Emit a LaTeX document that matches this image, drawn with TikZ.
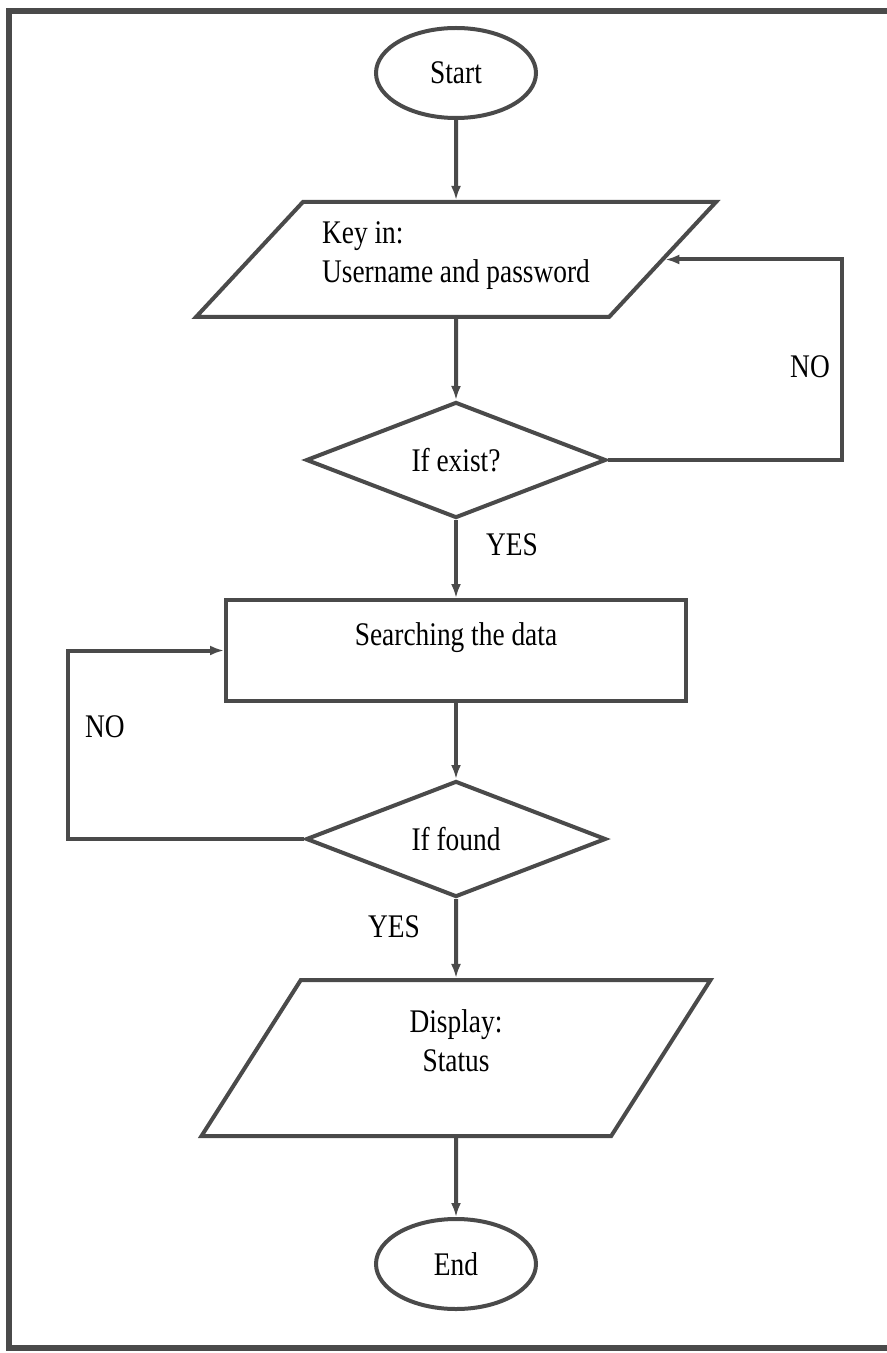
\documentclass[tikz,border=0pt]{standalone}
\usepackage{fontspec}
\setmainfont{Liberation Serif}[FakeStretch=0.83]
\usetikzlibrary{shapes.geometric,arrows.meta}
\definecolor{lineg}{HTML}{4A4A4A}
\tikzset{flow/.style={draw=lineg,line width=2pt,-{Latex[length=7pt,width=5pt]}}}
\tikzset{term/.style={ellipse,draw=lineg,line width=2pt,inner sep=0pt,minimum width=80pt,minimum height=45pt}}
\tikzset{io/.style={trapezium,trapezium stretches body=true,draw=lineg,line width=2pt,inner sep=0pt}}
\tikzset{test/.style={diamond,aspect=2.6,draw=lineg,line width=2pt,inner sep=0pt,minimum width=150pt,minimum height=58pt}}
\tikzset{proc/.style={rectangle,draw=lineg,line width=2pt,inner sep=0pt,minimum width=230pt,minimum height=50.5pt}}

\begin{document}
\begin{tikzpicture}[x=0.5pt,y=-0.5pt,font=\fontsize{16.5}{19.5}\selectfont]
\useasboundingbox (0,0) rectangle (887,1353);
\draw[lineg,line width=3pt] (9,11) rectangle (900,1348);
\node (start) at (456,73) [term] {Start};
\node (keyin) at (456,259.5) [io,trapezium left angle=35,trapezium right angle=145,minimum width=260pt,minimum height=57.5pt,align=left,text depth=7pt] {Key in:\\Username and password};
\node (exist) at (456,460) [test] {If exist?};
\node (search) at (456,650.5) [proc,text depth=16pt] {Searching the data};
\node (found) at (456,839) [test] {If found};
\node (show) at (456,1058) [io,trapezium left angle=44,trapezium right angle=136,minimum width=254.5pt,minimum height=78pt,align=center,text depth=17pt] {Display:\\Status};
\node (stop) at (456,1264) [term] {End};
\coordinate (nr) at (842,460);
\coordinate (nl) at (68,839);
\node (noA) at (810,367) {NO};
\node (yesA) at (512,545) {YES};
\node (noB) at (105,727) {NO};
\node (yesB) at (394,927) {YES};
\draw[flow] (start)--(keyin);
\draw[flow] (keyin)--(exist);
\draw[flow] (exist)--(search);
\draw[flow] (search)--(found);
\draw[flow] (found)--(show);
\draw[flow] (show)--(stop);
\draw[flow] (exist.east)--(nr)|-(keyin.east);
\draw[flow] (found.west)--(nl)|-(search.west);
\end{tikzpicture}
\end{document}
